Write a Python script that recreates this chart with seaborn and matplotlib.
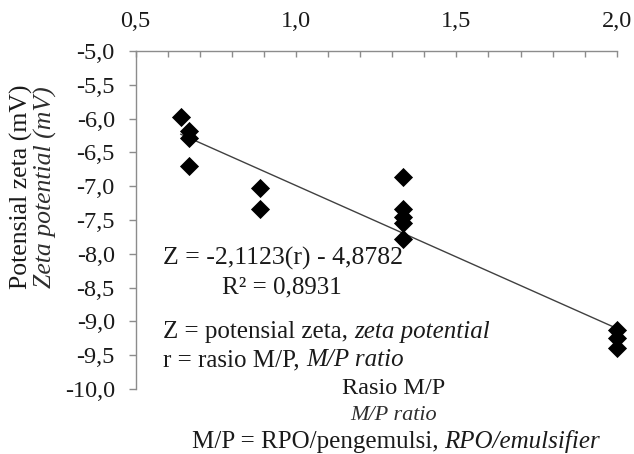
import numpy as np
import pandas as pd
import matplotlib
matplotlib.use("Agg")
import matplotlib.pyplot as plt
import seaborn as sns
from matplotlib.ticker import MultipleLocator, FuncFormatter

# ---- data ----
rasio_mp = [0.64, 0.667, 0.667, 0.667, 0.889, 0.889,
            1.333, 1.333, 1.333, 1.333, 1.333, 2.0, 2.0, 2.0]
zeta_mv = [-5.97, -6.19, -6.29, -6.70, -7.02, -7.34,
           -6.86, -7.33, -7.45, -7.55, -7.78, -9.12, -9.25, -9.40]
trend_slope = -2.1123
trend_intercept = -4.8782
x_ticks = [0.5, 1.0, 1.5, 2.0]
y_ticks = [-5.0, -5.5, -6.0, -6.5, -7.0, -7.5, -8.0, -8.5, -9.0, -9.5, -10.0]

eq_text = "Z = -2,1123(r) - 4,8782"
r2_text = "R\u00b2 = 0,8931"
note1_a, note1_b = "Z = potensial zeta,", "zeta potential"
note2_a, note2_b = "r = rasio M/P,", "M/P ratio"
xlabel_id, xlabel_en = "Rasio M/P", "M/P ratio"
note3_a, note3_b = "M/P = RPO/pengemulsi,", "RPO/emulsifier"
ylabel_id, ylabel_en = "Potensial zeta (mV)", "Zeta potential (mV)"

sns.set_theme(style="white")
plt.rcParams['font.family'] = ['Liberation Serif', 'DejaVu Serif']

W, H = 634, 454
fig = plt.figure(figsize=(W / 100, H / 100), dpi=100)
fig.patch.set_facecolor("white")
left, right, top, bottom = 135.7, 616.7, 51, 389
ax = fig.add_axes([left / W, 1 - bottom / H, (right - left) / W, (bottom - top) / H])

TXT = "#1a1a1a"
ITC = "#2e2e2e"

df = pd.DataFrame({"rasio": rasio_mp, "zeta": zeta_mv})
xs = np.array([min(rasio_mp), max(rasio_mp)])
sns.lineplot(x=xs, y=trend_slope * xs + trend_intercept, color="#404040",
             linewidth=1.0, ax=ax, zorder=2)
sns.scatterplot(data=df, x="rasio", y="zeta", marker="D", s=95, color="black",
                edgecolor="black", linewidth=0, ax=ax, zorder=3, clip_on=False)

ax.set_xlim(0.5, 2.0)
ax.set_ylim(-10.0, -5.0)
ax.set_xlabel("")
ax.set_ylabel("")
fmt = FuncFormatter(lambda v, p: f"{v:.1f}".replace(".", ","))
ax.set_xticks(x_ticks)
ax.xaxis.set_minor_locator(MultipleLocator(0.1))
ax.xaxis.set_major_formatter(fmt)
ax.set_yticks(y_ticks)
ax.yaxis.set_major_formatter(fmt)

axis_col = "#8c8c8c"
for s in ["right", "bottom"]:
    ax.spines[s].set_visible(False)
for s in ["top", "left"]:
    ax.spines[s].set_visible(True)
    ax.spines[s].set_color(axis_col)
    ax.spines[s].set_linewidth(1.0)
ax.tick_params(axis="x", which="both", direction="in", length=4, width=1,
               color=axis_col, top=True, bottom=False, labeltop=True,
               labelbottom=False, pad=14, labelsize=17.5, labelcolor=TXT)
ax.tick_params(axis="y", which="both", direction="out", length=5, width=1,
               color=axis_col, left=True, pad=10, labelsize=17.5, labelcolor=TXT)
ax.grid(False)


def fx(px):
    return px / W


def fy(py):
    return 1 - py / H


def two_part(x_left, y_center, roman, italic, size, gap_pt=4.5):
    t = fig.text(fx(x_left), fy(y_center), roman, ha="left", va="center",
                 fontsize=size, color=TXT)
    a = ax.annotate(italic, xy=(1, 0), xycoords=t, xytext=(gap_pt, 0),
                    textcoords="offset points", ha="left", va="bottom",
                    fontsize=size, style="italic", color=TXT)
    return t, a


fig.text(fx(21.7), fy(187), ylabel_id, rotation=90, ha="center", va="center",
         fontsize=18.5, color=TXT)
fig.text(fx(45), fy(187), ylabel_en, rotation=90, ha="center", va="center",
         fontsize=18.5, style="italic", color=ITC)

fig.text(fx(163.3), fy(258), eq_text, ha="left", va="center", fontsize=18.5, color=TXT)
fig.text(fx(221.7), fy(287), r2_text, ha="left", va="center", fontsize=18, color=TXT)

two_part(163.3, 332, note1_a, note1_b, 18)
two_part(163.3, 360, note2_a, note2_b, 18)

fig.text(fx(393.3), fy(389), xlabel_id, ha="center", va="center", fontsize=17.5, color=TXT)
fig.text(fx(394), fy(416), xlabel_en, ha="center", va="center", fontsize=16,
         style="italic", color=ITC)

# last line: centre the combined roman + italic text at the reference centre
t3, a3 = two_part(188, 442, note3_a, note3_b, 18)
fig.canvas.draw()
r = fig.canvas.get_renderer()
x0 = t3.get_window_extent(r).x0
x1 = a3.get_window_extent(r).x1
shift = 396 - (x0 + x1) / 2
t3.set_x(fx(188 + shift))

fig.savefig("out.png", dpi=100, facecolor="white")
